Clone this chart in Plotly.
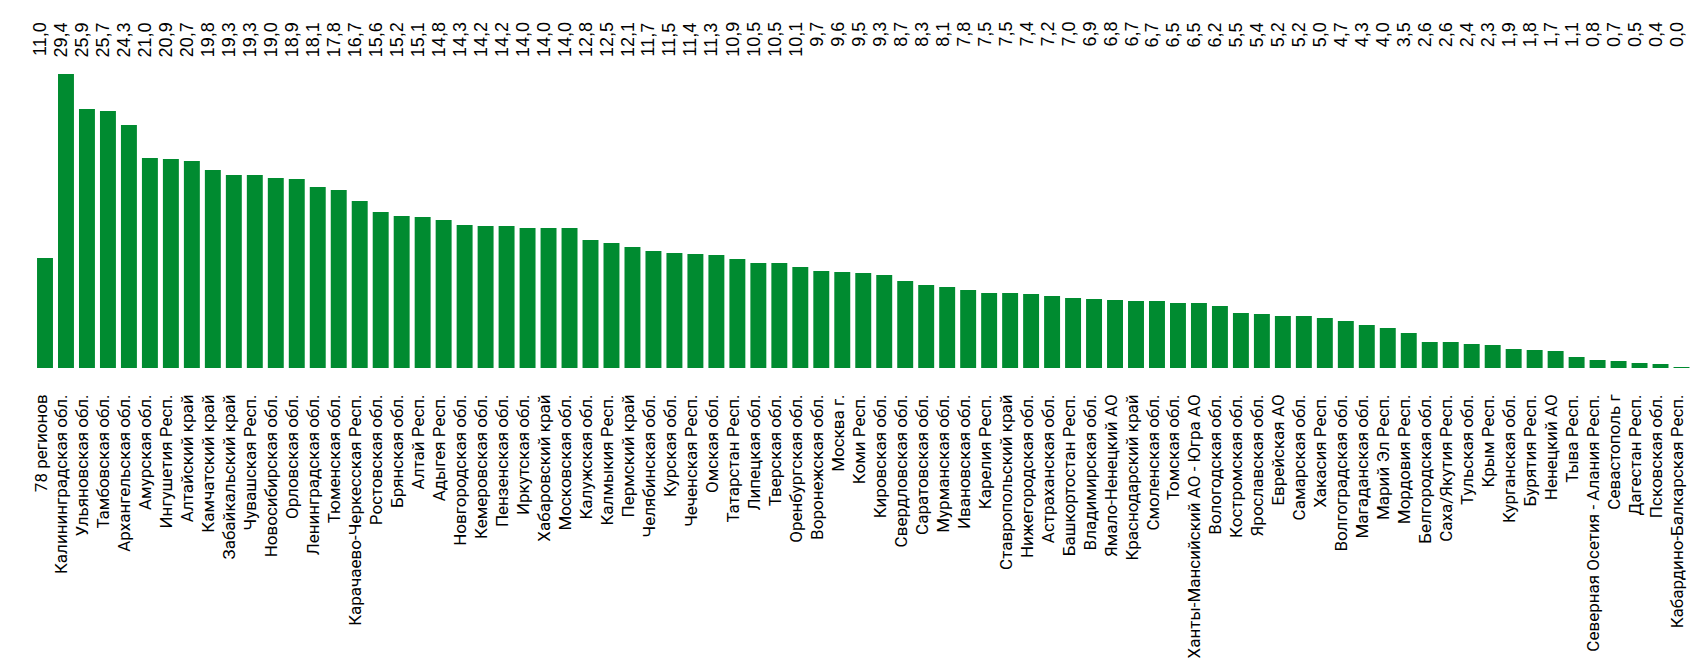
import plotly.graph_objects as go

categories = [
    "78 регионов", "Калининградская обл.", "Ульяновская обл.", "Тамбовская обл.", "Архангельская обл.",
    "Амурская обл.", "Ингушетия Респ.", "Алтайский край", "Камчатский край", "Забайкальский край",
    "Чувашская Респ.", "Новосибирская обл.", "Орловская обл.", "Ленинградская обл.", "Тюменская обл.",
    "Карачаево-Черкесская Респ.", "Ростовская обл.", "Брянская обл.", "Алтай Респ.", "Адыгея Респ.",
    "Новгородская обл.", "Кемеровская обл.", "Пензенская обл.", "Иркутская обл.", "Хабаровский край",
    "Московская обл.", "Калужская обл.", "Калмыкия Респ.", "Пермский край", "Челябинская обл.",
    "Курская обл.", "Чеченская Респ.", "Омская обл.", "Татарстан Респ.", "Липецкая обл.",
    "Тверская обл.", "Оренбургская обл.", "Воронежская обл.", "Москва г.", "Коми Респ.",
    "Кировская обл.", "Свердловская обл.", "Саратовская обл.", "Мурманская обл.", "Ивановская обл.",
    "Карелия Респ.", "Ставропольский край", "Нижегородская обл.", "Астраханская обл.", "Башкортостан Респ.",
    "Владимирская обл.", "Ямало-Ненецкий АО", "Краснодарский край", "Смоленская обл.", "Томская обл.",
    "Ханты-Мансийский АО - Югра АО", "Вологодская обл.", "Костромская обл.", "Ярославская обл.", "Еврейская АО",
    "Самарская обл.", "Хакасия Респ.", "Волгоградская обл.", "Магаданская обл.", "Марий Эл Респ.",
    "Мордовия Респ.", "Белгородская обл.", "Саха/Якутия Респ.", "Тульская обл.", "Крым Респ.",
    "Курганская обл.", "Бурятия Респ.", "Ненецкий АО", "Тыва Респ.", "Северная Осетия - Алания Респ.",
    "Севастополь г", "Дагестан Респ.", "Псковская обл.", "Кабардино-Балкарская Респ.",
]

# last value is a tiny non-zero amount (drawn as a hairline, shown as "0,0")
values = [
    11.0, 29.4, 25.9, 25.7, 24.3, 21.0, 20.9, 20.7, 19.8, 19.3,
    19.3, 19.0, 18.9, 18.1, 17.8, 16.7, 15.6, 15.2, 15.1, 14.8,
    14.3, 14.2, 14.2, 14.0, 14.0, 14.0, 12.8, 12.5, 12.1, 11.7,
    11.5, 11.4, 11.3, 10.9, 10.5, 10.5, 10.1, 9.7, 9.6, 9.5,
    9.3, 8.7, 8.3, 8.1, 7.8, 7.5, 7.5, 7.4, 7.2, 7.0,
    6.9, 6.8, 6.7, 6.7, 6.5, 6.5, 6.2, 5.5, 5.4, 5.2,
    5.2, 5.0, 4.7, 4.3, 4.0, 3.5, 2.6, 2.6, 2.4, 2.3,
    1.9, 1.8, 1.7, 1.1, 0.8, 0.7, 0.5, 0.4, 0.04,
]

value_labels = [f"{v:.1f}".replace(".", ",") for v in values]

GREEN = "#008B30"

fig = go.Figure(
    go.Bar(
        x=categories,
        y=values,
        marker=dict(color=GREEN, line=dict(width=0)),
        hoverinfo="x+y",
    )
)

for c, t in zip(categories, value_labels):
    fig.add_annotation(
        x=c, y=1, xref="x", yref="paper",
        text=t, textangle=-90, showarrow=False,
        xanchor="center", yanchor="top", yshift=-12, xshift=-5,
        font=dict(family="Liberation Sans, Arial, sans-serif", size=18, color="#000000"),
    )

fig.update_layout(
    width=1703,
    height=671,
    margin=dict(l=20, r=19, t=0, b=311),
    paper_bgcolor="white",
    plot_bgcolor="white",
    bargap=0.24,
    showlegend=False,
    font=dict(family="Roboto, sans-serif", size=17, color="#000000"),
)
fig.update_xaxes(
    type="category",
    tickmode="array",
    tickvals=categories,
    ticktext=categories,
    tickangle=-90,
    showgrid=False,
    showline=False,
    ticks="",
    ticklabelstandoff=22,
    ticklabelshift=-4,
    tickfont=dict(family="Roboto, sans-serif", size=17, color="#000000"),
)
fig.update_yaxes(
    range=[0, 36.0],
    visible=False,
    showgrid=False,
    zeroline=False,
)

fig.write_html("out.html")
